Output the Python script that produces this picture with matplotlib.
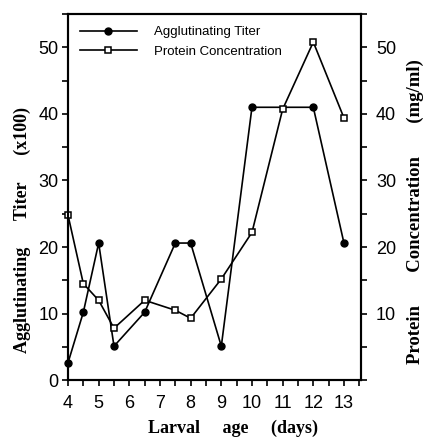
import matplotlib
matplotlib.use("Agg")
import matplotlib.pyplot as plt
from matplotlib.ticker import MultipleLocator

# larval age (days)
titer_days = [4, 4.5, 5, 5.5, 6.5, 7.5, 8, 9, 10, 12, 13]
titer_vals = [2.6, 10.2, 20.6, 5.1, 10.2, 20.6, 20.6, 5.1, 41, 41, 20.6]

prot_days = [4, 4.5, 5, 5.5, 6.5, 7.5, 8, 9, 10, 11, 12, 13]
prot_vals = [24.8, 14.5, 12, 7.8, 12, 10.5, 9.3, 15.2, 22.2, 40.7, 50.8, 39.4]

x_ticks = [4, 5, 6, 7, 8, 9, 10, 11, 12, 13]
left_ticks = [0, 10, 20, 30, 40, 50]
right_ticks = [10, 20, 30, 40, 50]

sans = "Liberation Sans"
serif = "Liberation Serif"

W, H = 425, 441
fig = plt.figure(figsize=(W / 100, H / 100), dpi=100)
ax = fig.add_axes([0.16, 0.138, 0.689, 0.83])

ax.plot(titer_days, titer_vals, color="black", lw=1.2, marker="o", ms=5,
        mfc="black", label="Agglutinating Titer", clip_on=False, zorder=3)
ax.plot(prot_days, prot_vals, color="black", lw=1.2, marker="s", ms=5,
        mfc="white", mew=1.1, label="Protein Concentration", clip_on=False, zorder=4)

ax.set_xlim(4, 13.55)
ax.set_ylim(0, 55)
ax.set_xticks(x_ticks)
ax.xaxis.set_minor_locator(MultipleLocator(0.5))
ax.set_yticks(left_ticks)
ax.yaxis.set_minor_locator(MultipleLocator(5))
ax.tick_params(which="both", direction="out", length=4, width=1.2, labelsize=13)
ax.tick_params(axis="x", which="both", pad=7)
ax.tick_params(axis="y", which="both", pad=3)
for lab in ax.get_xticklabels() + ax.get_yticklabels():
    lab.set_fontfamily(sans)

for s in ax.spines.values():
    s.set_linewidth(1.5)

ax2 = ax.twinx()
ax2.set_ylim(0, 55)
ax2.set_yticks(right_ticks)
ax2.yaxis.set_minor_locator(MultipleLocator(5))
ax2.tick_params(which="both", direction="out", length=4, width=1.2, labelsize=13, pad=7)
for lab in ax2.get_yticklabels():
    lab.set_fontfamily(sans)
for s in ax2.spines.values():
    s.set_linewidth(1.5)

# axis titles placed by hand (pixel positions from the reference)
lab_kw = dict(fontfamily=serif, fontweight="bold", ha="center", va="center")
fig.text(233 / W, 1 - 428 / H, "Larval     age     (days)", fontsize=13, **lab_kw)
fig.text(22 / W, 1 - 230 / H, "Agglutinating      Titer      (x100)", rotation=90,
         fontsize=13, **lab_kw)
fig.text(415 / W, 1 - 212 / H, "Protein       Concentration       (mg/ml)", rotation=90,
         fontsize=13.5, **lab_kw)

leg = ax.legend(loc="upper left", frameon=False, handlelength=4.3,
                prop={"family": sans, "size": 9.5}, borderaxespad=0.5, labelspacing=0.55,
                handletextpad=1.3)

fig.savefig("out.png", dpi=100)
